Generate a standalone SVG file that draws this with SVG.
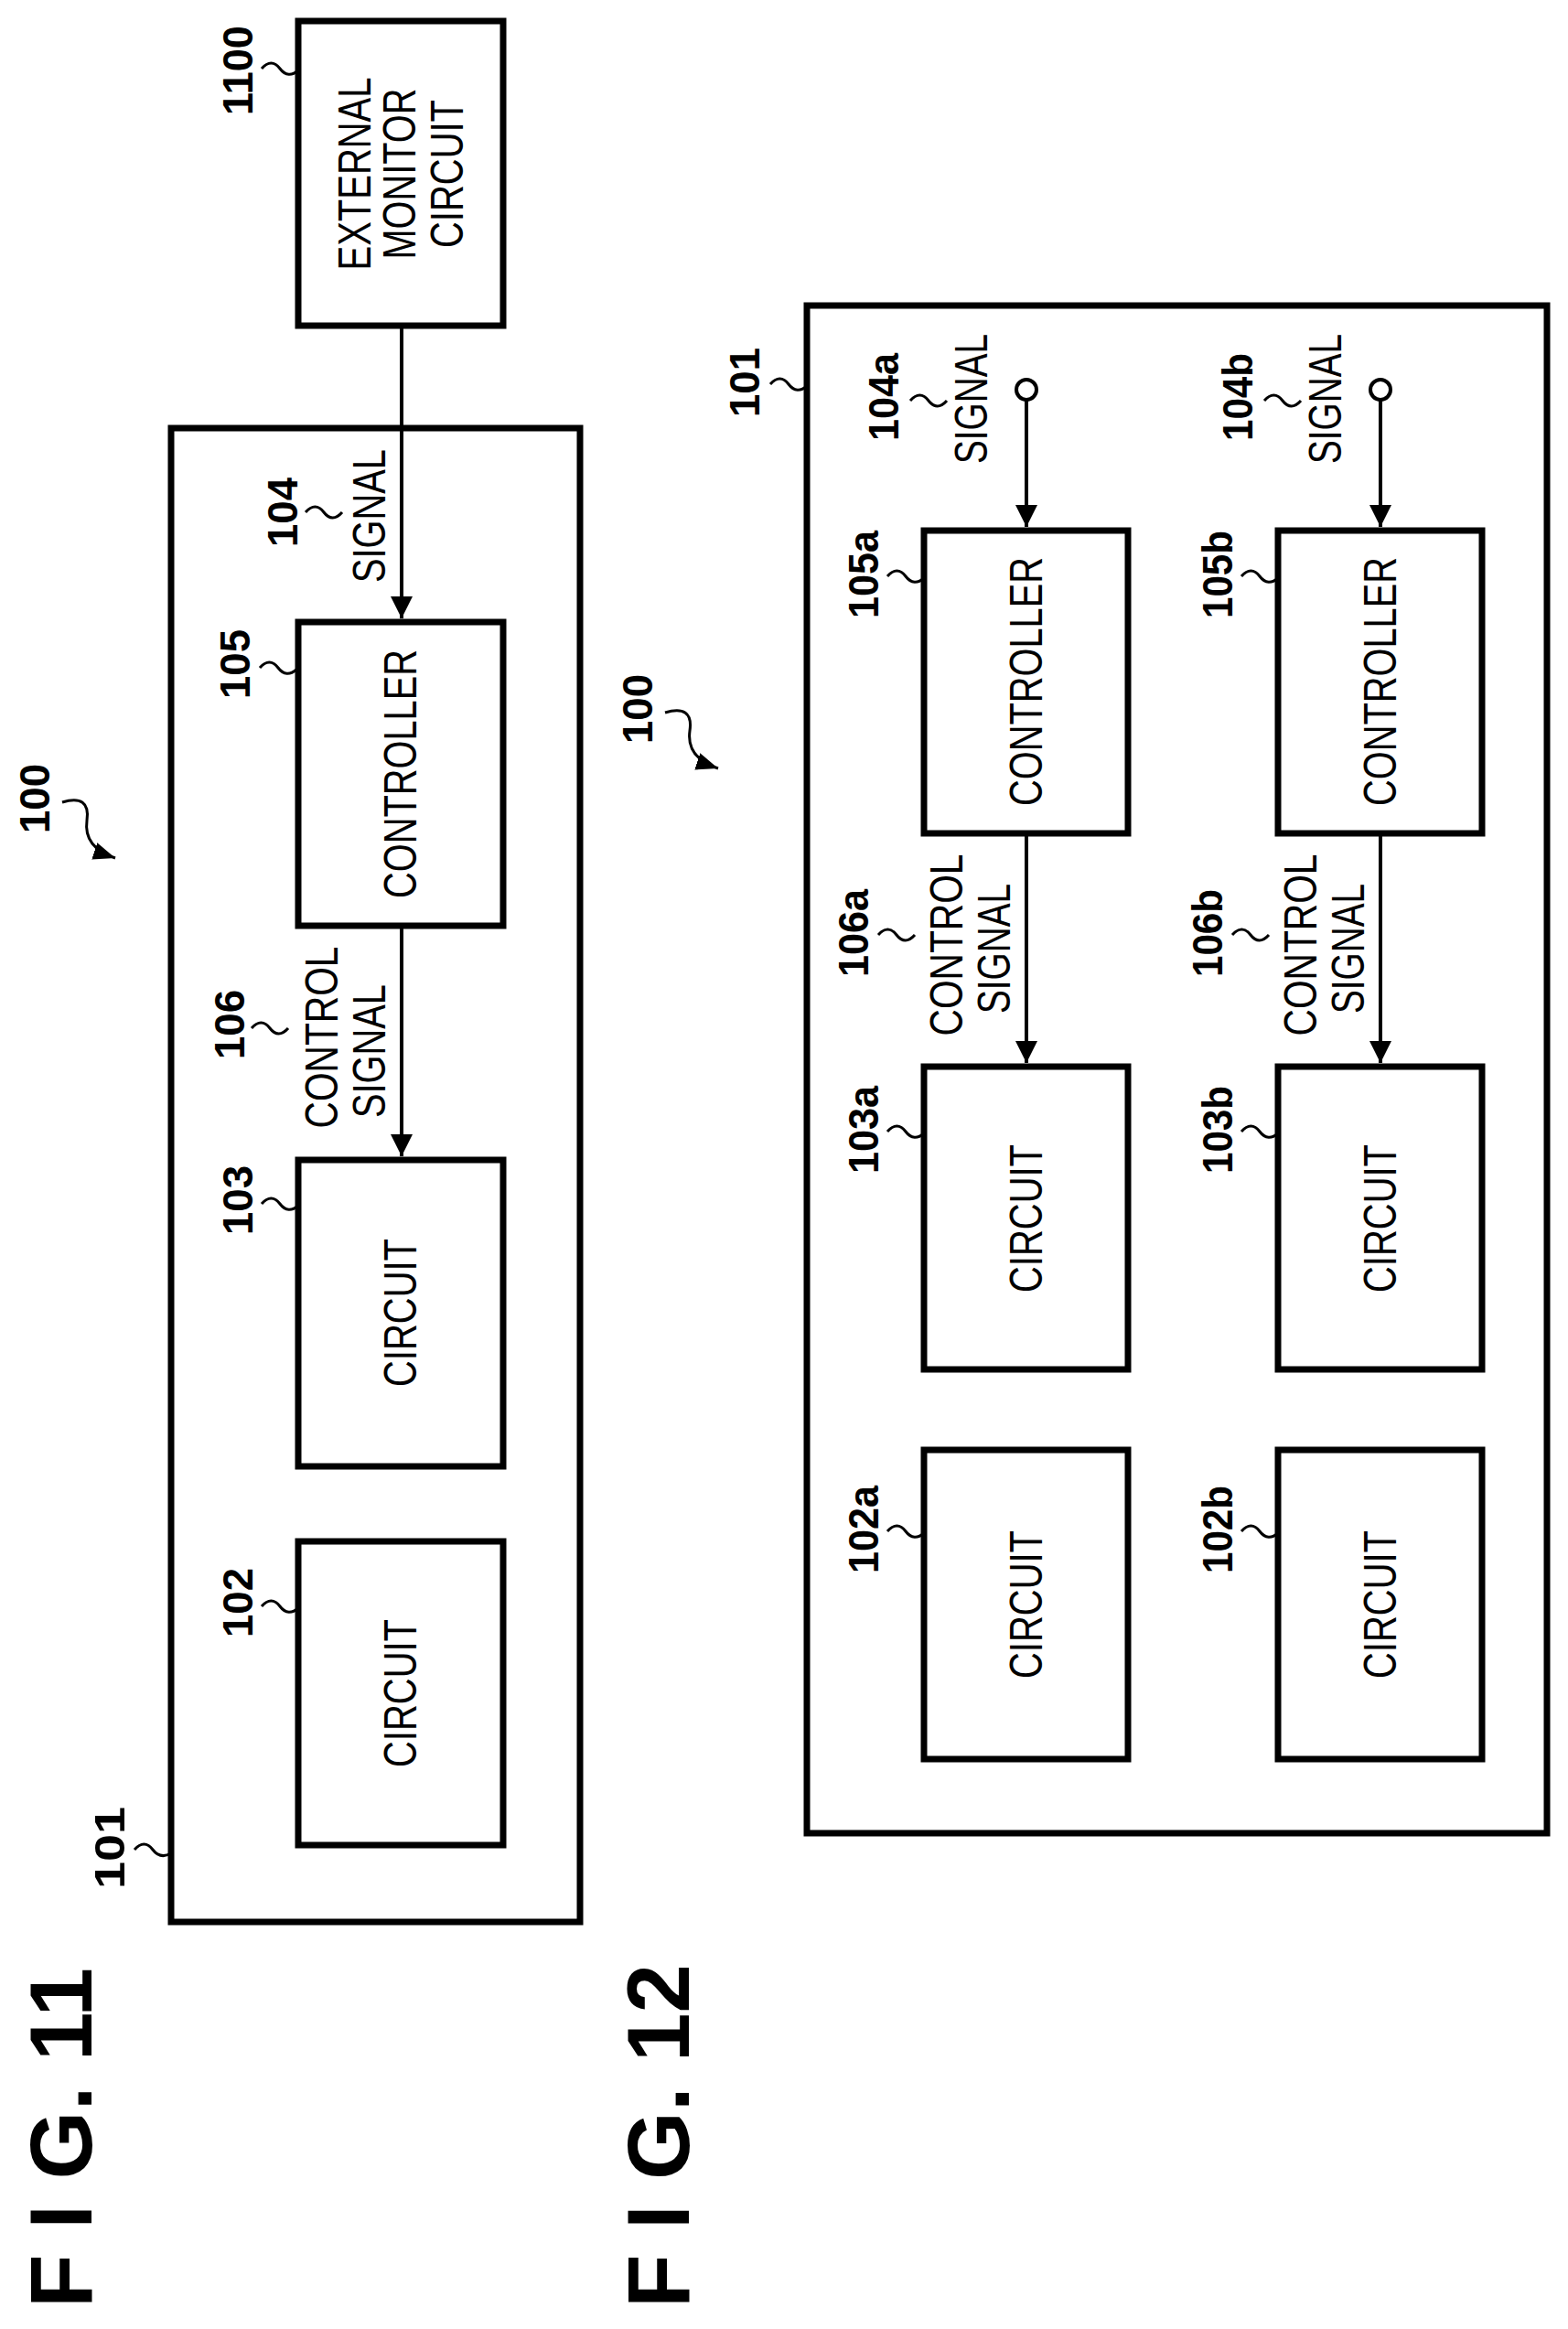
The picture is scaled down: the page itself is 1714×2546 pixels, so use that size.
<svg xmlns="http://www.w3.org/2000/svg" width="1714" height="2546" viewBox="0 0 1714 2546">
<style>
.box{fill:#fff;stroke:#000;stroke-width:7}
.ln{fill:none;stroke:#000;stroke-width:4}
.wv{fill:none;stroke:#000;stroke-width:3}
.t{font-family:"Liberation Sans",Arial,sans-serif;font-size:50px;fill:#000;text-anchor:middle;dominant-baseline:central}
.b{font-family:"Liberation Sans",Arial,sans-serif;font-weight:bold;font-size:46px;fill:#000;text-anchor:middle;dominant-baseline:central}
.f{font-family:"Liberation Sans",Arial,sans-serif;font-weight:bold;font-size:96px;fill:#000;text-anchor:middle;dominant-baseline:central}
</style>
<defs>
<marker id="ah" viewBox="0 0 10 10" refX="10" refY="5" markerWidth="6" markerHeight="6" orient="auto" markerUnits="strokeWidth"><path d="M0,0 L10,5 L0,10 z" fill="#000"/></marker>
<marker id="ah2" viewBox="0 0 10 10" refX="10" refY="5" markerWidth="8" markerHeight="8" orient="auto" markerUnits="strokeWidth"><path d="M0,1 L10,5 L0,9 z" fill="#000"/></marker>
</defs>

<!-- FIG 11 -->
<g id="fig11-101"><rect class="box" x="187" y="468" width="447" height="1633"/>
<text class="b" transform="translate(120,2020) rotate(-90)" textLength="90" lengthAdjust="spacingAndGlyphs">101</text>
<path class="wv" d="M147,2022 c7,-8 14,-8 20,0 s13,8 20,4"/></g>
<g id="n1100"><rect class="box" x="326" y="23" width="224" height="333"/>
<text class="t" transform="translate(388,190) rotate(-90)" textLength="211" lengthAdjust="spacingAndGlyphs">EXTERNAL</text>
<text class="t" transform="translate(437,190) rotate(-90)" textLength="187" lengthAdjust="spacingAndGlyphs">MONITOR</text>
<text class="t" transform="translate(489,190) rotate(-90)" textLength="162" lengthAdjust="spacingAndGlyphs">CIRCUIT</text>
<text class="b" transform="translate(260,77) rotate(-90)" textLength="98" lengthAdjust="spacingAndGlyphs">1100</text>
<path class="wv" d="M286,75 c7,-8 14,-8 20,0 s13,8 20,2"/></g>
<g id="n105"><rect class="box" x="326" y="680" width="224" height="332"/>
<text class="t" transform="translate(438,846) rotate(-90)" textLength="272" lengthAdjust="spacingAndGlyphs">CONTROLLER</text>
<text class="b" transform="translate(257,726) rotate(-90)" textLength="76" lengthAdjust="spacingAndGlyphs">105</text>
<path class="wv" d="M284,730 c7,-8 14,-8 20,0 s13,8 20,2"/></g>
<g id="n103"><rect class="box" x="326" y="1268" width="224" height="335"/>
<text class="t" transform="translate(438,1435) rotate(-90)" textLength="162" lengthAdjust="spacingAndGlyphs">CIRCUIT</text>
<text class="b" transform="translate(260,1312) rotate(-90)" textLength="76" lengthAdjust="spacingAndGlyphs">103</text>
<path class="wv" d="M286,1316 c7,-8 14,-8 20,0 s13,8 20,2"/></g>
<g id="n102"><rect class="box" x="326" y="1685" width="224" height="332"/>
<text class="t" transform="translate(438,1851) rotate(-90)" textLength="162" lengthAdjust="spacingAndGlyphs">CIRCUIT</text>
<text class="b" transform="translate(260,1752) rotate(-90)" textLength="76" lengthAdjust="spacingAndGlyphs">102</text>
<path class="wv" d="M286,1756 c7,-8 14,-8 20,0 s13,8 20,2"/></g>
<g id="lbl100a"><text class="b" transform="translate(38,873) rotate(-90)" textLength="76" lengthAdjust="spacingAndGlyphs">100</text>
<path class="wv" d="M68,877 c20,-6 30,0 27,20 c-3,22 10,34 31,41" marker-end="url(#ah2)"/></g>
<g id="fig11-title"><text class="f" transform="translate(66,2337) rotate(-90)" textLength="372" lengthAdjust="spacing">F I G. 11</text></g>
<g id="lbl104"><text class="t" transform="translate(404,564) rotate(-90)" textLength="146" lengthAdjust="spacingAndGlyphs">SIGNAL</text>
<text class="b" transform="translate(309,560) rotate(-90)" textLength="76" lengthAdjust="spacingAndGlyphs">104</text>
<path class="wv" d="M334,560 c7,-8 14,-8 20,0 s13,8 20,0"/></g>
<g id="lbl106"><text class="t" transform="translate(352,1134) rotate(-90)" textLength="199" lengthAdjust="spacingAndGlyphs">CONTROL</text>
<text class="t" transform="translate(404,1149) rotate(-90)" textLength="146" lengthAdjust="spacingAndGlyphs">SIGNAL</text>
<text class="b" transform="translate(251,1120) rotate(-90)" textLength="76" lengthAdjust="spacingAndGlyphs">106</text>
<path class="wv" d="M275,1124 c7,-8 14,-8 20,0 s13,8 20,0"/></g>

<!-- FIG 12 -->
<g id="fig12-101"><rect class="box" x="882" y="334" width="809" height="1670"/>
<text class="b" transform="translate(814,418) rotate(-90)" textLength="76" lengthAdjust="spacingAndGlyphs">101</text>
<path class="wv" d="M842,420 c7,-8 14,-8 20,0 s13,8 20,2"/></g>
<g id="lbl100b"><text class="b" transform="translate(697,775) rotate(-90)" textLength="76" lengthAdjust="spacingAndGlyphs">100</text>
<path class="wv" d="M727,779 c20,-6 30,0 27,20 c-3,22 10,34 31,41" marker-end="url(#ah2)"/></g>
<g id="fig12-title"><text class="f" transform="translate(719,2335) rotate(-90)" textLength="376" lengthAdjust="spacing">F I G. 12</text></g>

<g id="n105a"><rect class="box" x="1010" y="580" width="223" height="331"/>
<text class="t" transform="translate(1122,745) rotate(-90)" textLength="272" lengthAdjust="spacingAndGlyphs">CONTROLLER</text>
<text class="b" transform="translate(944,628) rotate(-90)" textLength="96" lengthAdjust="spacingAndGlyphs">105a</text>
<path class="wv" d="M970,630 c7,-8 14,-8 20,0 s13,8 20,2"/></g>
<g id="n103a"><rect class="box" x="1010" y="1166" width="223" height="331"/>
<text class="t" transform="translate(1122,1332) rotate(-90)" textLength="162" lengthAdjust="spacingAndGlyphs">CIRCUIT</text>
<text class="b" transform="translate(944,1235) rotate(-90)" textLength="96" lengthAdjust="spacingAndGlyphs">103a</text>
<path class="wv" d="M970,1237 c7,-8 14,-8 20,0 s13,8 20,2"/></g>
<g id="n102a"><rect class="box" x="1010" y="1585" width="223" height="338"/>
<text class="t" transform="translate(1122,1754) rotate(-90)" textLength="162" lengthAdjust="spacingAndGlyphs">CIRCUIT</text>
<text class="b" transform="translate(944,1672) rotate(-90)" textLength="96" lengthAdjust="spacingAndGlyphs">102a</text>
<path class="wv" d="M970,1674 c7,-8 14,-8 20,0 s13,8 20,2"/></g>
<g id="lbl104a"><text class="t" transform="translate(1062,436) rotate(-90)" textLength="142" lengthAdjust="spacingAndGlyphs">SIGNAL</text>
<text class="b" transform="translate(966,434) rotate(-90)" textLength="96" lengthAdjust="spacingAndGlyphs">104a</text>
<path class="wv" d="M995,438 c7,-8 14,-8 20,0 s13,8 20,0"/></g>
<g id="lbl106a"><text class="t" transform="translate(1035,1033) rotate(-90)" textLength="199" lengthAdjust="spacingAndGlyphs">CONTROL</text>
<text class="t" transform="translate(1087,1037) rotate(-90)" textLength="142" lengthAdjust="spacingAndGlyphs">SIGNAL</text>
<text class="b" transform="translate(933,1020) rotate(-90)" textLength="96" lengthAdjust="spacingAndGlyphs">106a</text>
<path class="wv" d="M960,1022 c7,-8 14,-8 20,0 s13,8 20,0"/></g>

<g id="n105b"><rect class="box" x="1397" y="580" width="223" height="331"/>
<text class="t" transform="translate(1509,745) rotate(-90)" textLength="272" lengthAdjust="spacingAndGlyphs">CONTROLLER</text>
<text class="b" transform="translate(1331,628) rotate(-90)" textLength="96" lengthAdjust="spacingAndGlyphs">105b</text>
<path class="wv" d="M1357,630 c7,-8 14,-8 20,0 s13,8 20,2"/></g>
<g id="n103b"><rect class="box" x="1397" y="1166" width="223" height="331"/>
<text class="t" transform="translate(1509,1332) rotate(-90)" textLength="162" lengthAdjust="spacingAndGlyphs">CIRCUIT</text>
<text class="b" transform="translate(1331,1235) rotate(-90)" textLength="96" lengthAdjust="spacingAndGlyphs">103b</text>
<path class="wv" d="M1357,1237 c7,-8 14,-8 20,0 s13,8 20,2"/></g>
<g id="n102b"><rect class="box" x="1397" y="1585" width="223" height="338"/>
<text class="t" transform="translate(1509,1754) rotate(-90)" textLength="162" lengthAdjust="spacingAndGlyphs">CIRCUIT</text>
<text class="b" transform="translate(1331,1672) rotate(-90)" textLength="96" lengthAdjust="spacingAndGlyphs">102b</text>
<path class="wv" d="M1357,1674 c7,-8 14,-8 20,0 s13,8 20,2"/></g>
<g id="lbl104b"><text class="t" transform="translate(1449,436) rotate(-90)" textLength="142" lengthAdjust="spacingAndGlyphs">SIGNAL</text>
<text class="b" transform="translate(1353,434) rotate(-90)" textLength="96" lengthAdjust="spacingAndGlyphs">104b</text>
<path class="wv" d="M1382,438 c7,-8 14,-8 20,0 s13,8 20,0"/></g>
<g id="lbl106b"><text class="t" transform="translate(1422,1033) rotate(-90)" textLength="199" lengthAdjust="spacingAndGlyphs">CONTROL</text>
<text class="t" transform="translate(1474,1037) rotate(-90)" textLength="142" lengthAdjust="spacingAndGlyphs">SIGNAL</text>
<text class="b" transform="translate(1320,1020) rotate(-90)" textLength="96" lengthAdjust="spacingAndGlyphs">106b</text>
<path class="wv" d="M1347,1022 c7,-8 14,-8 20,0 s13,8 20,0"/></g>

<g id="connectors">
<line class="ln" x1="439" y1="356" x2="439" y2="676" marker-end="url(#ah)"/>
<line class="ln" x1="439" y1="1012" x2="439" y2="1264" marker-end="url(#ah)"/>
<line class="ln" x1="1122" y1="437" x2="1122" y2="576" marker-end="url(#ah)"/>
<line class="ln" x1="1122" y1="911" x2="1122" y2="1162" marker-end="url(#ah)"/>
<line class="ln" x1="1509" y1="437" x2="1509" y2="576" marker-end="url(#ah)"/>
<line class="ln" x1="1509" y1="911" x2="1509" y2="1162" marker-end="url(#ah)"/>
<circle cx="1122" cy="426" r="11" fill="#fff" stroke="#000" stroke-width="4"/>
<circle cx="1509" cy="426" r="11" fill="#fff" stroke="#000" stroke-width="4"/>
</g>
</svg>
